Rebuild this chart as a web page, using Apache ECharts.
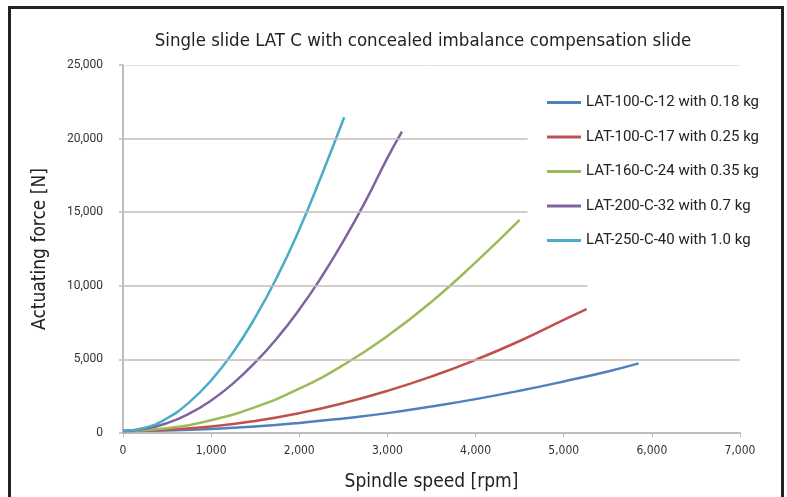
<!DOCTYPE html>
<html>
<head>
<meta charset="utf-8">
<script src="https://cdn.jsdelivr.net/npm/echarts@6/dist/echarts.min.js"></script>
<style>
html,body{margin:0;padding:0;background:#fff;}
#chart{position:absolute;left:0;top:0;width:787px;height:497px;}
#frame{position:absolute;left:8px;top:6px;width:776px;height:600px;border:3px solid #222;box-sizing:border-box;pointer-events:none;}
</style>
</head>
<body>
<div id="chart"></div>
<div id="frame"></div>
<script>
// ---- data ----
const titleText = 'Single slide LAT C with concealed imbalance compensation slide';
const xTitle = 'Spindle speed [rpm]';
const yTitle = 'Actuating force [N]';
const seriesNames = [
  'LAT-100-C-12 with 0.18 kg',
  'LAT-100-C-17 with 0.25 kg',
  'LAT-160-C-24 with 0.35 kg',
  'LAT-200-C-32 with 0.7 kg',
  'LAT-250-C-40 with 1.0 kg'
];
const seriesColors = ['#4f81bd', '#c0504d', '#9bbb59', '#8064a2', '#4bacc6'];

const rpm12   = [0, 500, 1000, 1500, 2000, 2500, 3000, 3500, 4000, 4500, 5000, 5500, 5850];
const force12 = [140, 170, 280, 440, 680, 990, 1350, 1800, 2300, 2870, 3500, 4180, 4730];

const rpm17   = [0, 500, 1000, 1500, 2000, 2500, 3000, 3500, 4000, 4500, 5000, 5260];
const force17 = [140, 220, 440, 820, 1350, 2030, 2860, 3840, 4970, 6250, 7690, 8420];

const rpm24   = [0, 500, 1000, 1500, 2000, 2500, 3000, 3500, 4000, 4500];
const force24 = [150, 330, 870, 1760, 3010, 4620, 6590, 8910, 11590, 14480];

const rpm32   = [0, 250, 500, 750, 1000, 1250, 1500, 1750, 2000, 2250, 2500, 2750, 3000, 3165];
const force32 = [150, 280, 670, 1310, 2210, 3370, 4790, 6460, 8390, 10580, 13030, 15730, 18690, 20470];

const rpm40   = [0, 250, 500, 750, 1000, 1250, 1500, 1750, 2000, 2250, 2510];
const force40 = [150, 360, 1000, 2080, 3570, 5490, 7850, 10620, 13830, 17460, 21450];

const xTicks = [0, 7000, 1000];      // min, max, interval
const yTicks = [0, 25000, 5000];     // min, max, interval
// gridline value and the rpm where each gridline ends in the reference
const gridValues = [25000, 20000, 15000, 10000, 5000];
const gridEnds   = [7000, 4590, 4590, 5270, 7000];

const rpmSets = [rpm12, rpm17, rpm24, rpm32, rpm40];
const forceSets = [force12, force17, force24, force32, force40];

// ---- chart ----
const chart = echarts.init(document.getElementById('chart'));
const narrow = "'Liberation Sans Narrow', 'DejaVu Sans Condensed', 'Open Sans', sans-serif";
const fmt = v => Number(v).toLocaleString('en-US');

const lineSeries = seriesNames.map((name, i) => ({
  name: name,
  type: 'line',
  smooth: true,
  showSymbol: false,
  symbol: 'none',
  z: 3,
  lineStyle: { color: seriesColors[i], width: 2.5 },
  itemStyle: { color: seriesColors[i] },
  data: rpmSets[i].map((x, j) => [x, forceSets[i][j]])
}));

const gridSeries = {
  name: 'grid',
  type: 'line',
  data: [],
  z: 1,
  silent: true,
  markLine: {
    silent: true,
    symbol: ['none', 'none'],
    label: { show: false },
    animation: false,
    data: gridValues.map((v, i) => [
      { coord: [0, v], lineStyle: { color: v === 25000 ? '#e6e4e2' : '#c5bdb8', width: v === 25000 ? 1 : 1.6, type: 'solid' } },
      { coord: [gridEnds[i], v] }
    ])
  }
};

chart.setOption({
  animation: false,
  backgroundColor: '#fff',
  title: {
    text: titleText,
    left: 418, top: 27, textAlign: 'center',
    textStyle: { fontFamily: narrow, fontSize: 18.5, fontWeight: 'normal', color: '#222' }
  },
  legend: {
    data: seriesNames,
    orient: 'vertical',
    left: 547, top: 95, padding: 0,
    itemWidth: 34, itemHeight: 3, itemGap: 19.5,
    icon: 'rect',
    textStyle: { fontFamily: 'Roboto, sans-serif', fontSize: 15, color: '#222', lineHeight: 15 }
  },
  grid: { left: 123, right: 47, top: 65, bottom: 62, containLabel: false },
  xAxis: {
    type: 'value',
    min: xTicks[0], max: xTicks[1], interval: xTicks[2],
    name: xTitle, nameLocation: 'middle', nameGap: 40,
    nameTextStyle: { fontFamily: narrow, fontSize: 19, color: '#222' },
    axisLine: { show: true, lineStyle: { color: '#c2bbb7', width: 2 } },
    axisTick: { show: true, length: 4, lineStyle: { color: '#c2bbb7', width: 1 } },
    axisLabel: { formatter: fmt, margin: 12, fontFamily: narrow, fontSize: 12, color: '#333' },
    splitLine: { show: false }
  },
  yAxis: {
    type: 'value',
    min: yTicks[0], max: yTicks[1], interval: yTicks[2],
    name: yTitle, nameLocation: 'middle', nameGap: 73, nameRotate: 90,
    nameTextStyle: { fontFamily: narrow, fontSize: 19, color: '#222' },
    axisLine: { show: true, lineStyle: { color: '#c2bbb7', width: 2 } },
    axisTick: { show: true, length: 4, lineStyle: { color: '#c5bdb8', width: 1.6 } },
    axisLabel: { formatter: fmt, margin: 20, fontFamily: 'Roboto, sans-serif', fontSize: 12, color: '#333' },
    splitLine: { show: false }
  },
  series: [gridSeries].concat(lineSeries)
});
</script>
</body>
</html>
